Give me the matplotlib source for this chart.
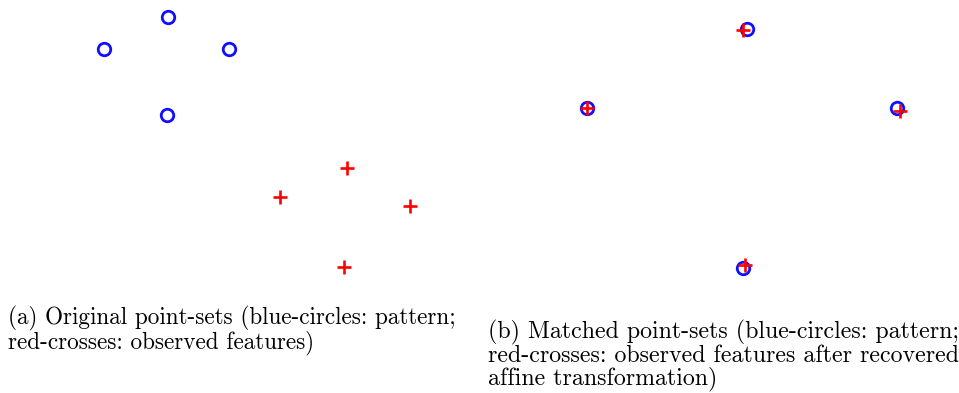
import matplotlib
matplotlib.use("Agg")
import matplotlib.pyplot as plt

# Panel (a): original point sets (pixel-like coordinates, y downward)
pattern_a_x = [168, 104, 229, 167]
pattern_a_y = [17, 49, 49, 115]
observed_a_x = [347, 280, 410, 344]
observed_a_y = [168, 197, 206, 267]

# Panel (b): matched point sets
pattern_b_x = [746.5, 587, 897, 743]
pattern_b_y = [28.5, 108, 108, 268]
observed_b_x = [742.5, 587, 899.5, 745]
observed_b_y = [30, 108, 111, 265]

caption_a = "(a) Original point-sets (blue-circles: pattern;\nred-crosses: observed features)"
caption_b = ("(b) Matched point-sets (blue-circles: pattern;\n"
             "red-crosses: observed features after recovered\n"
             "affine transformation)")

W, H = 959, 393
fig = plt.figure(figsize=(W / 100, H / 100), dpi=100)

ax = fig.add_axes([0, 0, 1, 1])
ax.set_xlim(0, W)
ax.set_ylim(H, 0)
ax.axis("off")

circ = dict(linestyle="none", marker="o", markersize=9, markerfacecolor="none",
            markeredgecolor="#1010ff", markeredgewidth=2.0)
cross = dict(linestyle="none", marker="+", markersize=10.5, color="#ff0000",
             markeredgewidth=1.9)

ax.plot(pattern_a_x, pattern_a_y, **circ)
ax.plot(observed_a_x, observed_a_y, **cross)
ax.plot(pattern_b_x, pattern_b_y, **circ)
ax.plot(observed_b_x, observed_b_y, **cross)

ax.text(8, 306, caption_a, fontfamily="cmr10", fontsize=16.7, va="top", ha="left",
        linespacing=0.98)
ax.text(488, 320, caption_b, fontfamily="cmr10", fontsize=17.2, va="top", ha="left",
        linespacing=0.98)

fig.savefig("out.png", dpi=100)
